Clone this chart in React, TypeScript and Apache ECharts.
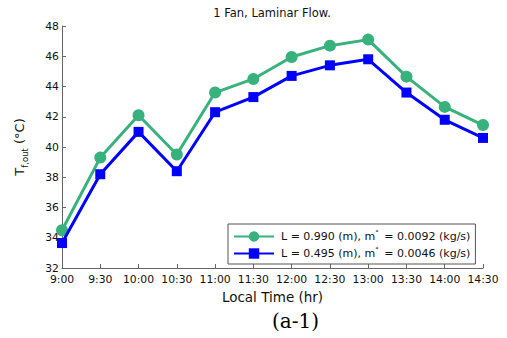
import React, { useEffect, useRef } from "react";
import * as echarts from "echarts";

const categories = ["9:00", "9:30", "10:00", "10:30", "11:00", "11:30", "12:00", "12:30", "13:00", "13:30", "14:00", "14:30"];
const seriesLong = [34.5, 39.3, 42.1, 39.5, 43.6, 44.5, 45.95, 46.7, 47.1, 44.65, 42.65, 41.45];
const seriesShort = [33.65, 38.2, 41.0, 38.4, 42.3, 43.3, 44.7, 45.4, 45.8, 43.6, 41.8, 40.6];
const seriesNames = ["L = 0.990 (m), m° = 0.0092 (kg/s)", "L = 0.495 (m), m° = 0.0046 (kg/s)"];
const yTicks = { min: 32, max: 48, interval: 2 };

const FONT = "DejaVu Sans";
const GREEN = "#37b27c";
const BLUE = "#0000ff";
const AXIS = "#666666";

export default function App() {
  const ref = useRef<HTMLDivElement>(null);
  useEffect(() => {
    if (!ref.current) return;
    const chart = echarts.init(ref.current, undefined, { renderer: "svg" });
    const legendFormatter = (name: string) => {
      const i = name.indexOf("°");
      return `{a|${name.slice(0, i)}}{s|°}{a|${name.slice(i + 1)}}`;
    };
    chart.setOption({
      animation: false,
      backgroundColor: "#ffffff",
      title: {
        text: "1 Fan, Laminar Flow.",
        left: 272,
        textAlign: "center",
        top: 7,
        padding: 0,
        textStyle: { fontFamily: FONT, fontSize: 11.5, fontWeight: "normal", color: "#111" },
      },
      grid: { left: 62, right: 24, top: 26, bottom: 70, containLabel: false },
      legend: {
        orient: "vertical",
        left: 228,
        top: 224,
        padding: [5, 5, 5, 5],
        itemGap: 4,
        itemWidth: 40,
        itemHeight: 13,
        borderColor: "#555",
        borderWidth: 1,
        borderRadius: 0,
        backgroundColor: "#fff",
        formatter: legendFormatter,
        textStyle: {
          fontFamily: FONT,
          fontSize: 11,
          color: "#111",
          padding: [0, 0, 0, 2],
          rich: {
            a: { fontFamily: FONT, fontSize: 11, color: "#111" },
            s: { fontFamily: FONT, fontSize: 7, color: "#111", padding: [0, 2, 8, 0] },
          },
        },
        data: seriesNames,
      },
      xAxis: {
        type: "category",
        data: categories,
        boundaryGap: false,
        name: "Local Time (hr)",
        nameLocation: "middle",
        nameGap: 20,
        nameTextStyle: { fontFamily: FONT, fontSize: 13.5, color: "#111" },
        axisLine: { lineStyle: { color: AXIS, width: 1 } },
        axisTick: { inside: true, length: 4, lineStyle: { color: AXIS } },
        axisLabel: { fontFamily: FONT, fontSize: 10.8, color: "#111", margin: 6, interval: 0, lineHeight: 11 },
        splitLine: { show: false },
      },
      yAxis: {
        type: "value",
        min: yTicks.min,
        max: yTicks.max,
        interval: yTicks.interval,
        name: "{t|T}{s|f,out}{t| (°C)}",
        nameLocation: "middle",
        nameGap: 33,
        nameRotate: 90,
        nameTextStyle: {
          rich: {
            t: { fontFamily: FONT, fontSize: 13, color: "#111", lineHeight: 20, verticalAlign: "middle" },
            s: { fontFamily: FONT, fontSize: 8.5, color: "#111", lineHeight: 20, verticalAlign: "bottom" },
          },
        },
        axisLine: { show: true, lineStyle: { color: AXIS, width: 1 } },
        axisTick: { show: true, inside: true, length: 4, lineStyle: { color: AXIS } },
        axisLabel: { fontFamily: FONT, fontSize: 10.8, color: "#111", margin: 3, lineHeight: 10 },
        splitLine: { show: false },
      },
      series: [
        {
          name: seriesNames[0],
          type: "line",
          data: seriesLong,
          symbol: "circle",
          symbolSize: 12,
          lineStyle: { color: GREEN, width: 3 },
          itemStyle: { color: GREEN },
          z: 2,
        },
        {
          name: seriesNames[1],
          type: "line",
          data: seriesShort,
          symbol: "rect",
          symbolSize: 10,
          lineStyle: { color: BLUE, width: 3 },
          itemStyle: { color: BLUE },
          z: 3,
        },
      ],
      graphic: [
        {
          type: "text",
          left: 272,
          top: 311,
          style: {
            text: "(a-1)",
            fontFamily: "DejaVu Serif",
            fontSize: 20,
            fill: "#000",
            textAlign: "center",
          },
        },
      ],
    });
    return () => chart.dispose();
  }, []);
  return <div ref={ref} style={{ position: "fixed", left: 0, top: 0, width: 507, height: 338 }} />;
}
